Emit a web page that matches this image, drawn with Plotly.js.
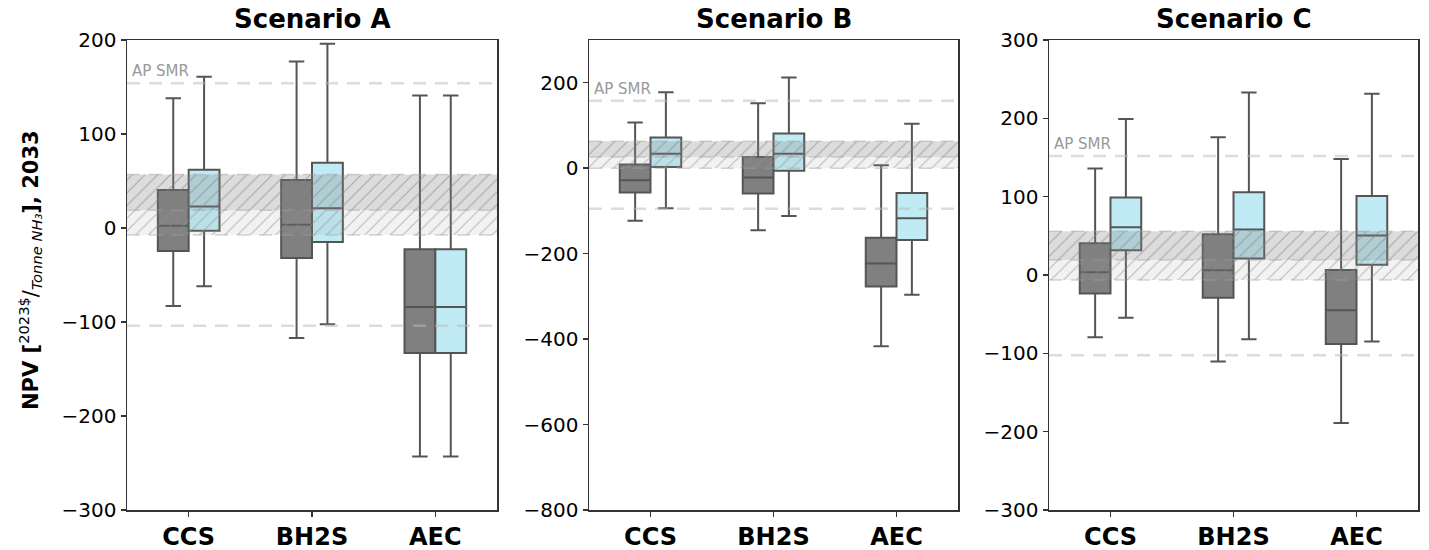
<!DOCTYPE html>
<html>
<head>
<meta charset="utf-8">
<script src="https://cdn.plot.ly/plotly-3.0.1.min.js"></script>
<style>html,body{margin:0;padding:0;background:#fff}#chart{width:1429px;height:550px}</style>
</head>
<body>
<div id="chart"></div>
<script>
// ---- data ----
const categories = ['CCS', 'BH2S', 'AEC'];
const scenarios = ['Scenario A', 'Scenario B', 'Scenario C'];

// Scenario A
const A_grey_upper = [138, 177, 141];
const A_grey_q3    = [40.5, 51, -22.5];
const A_grey_med   = [2.5, 3.5, -84];
const A_grey_q1    = [-24.5, -32, -133];
const A_grey_lower = [-83, -117, -243];
const A_blue_upper = [161, 196, 141];
const A_blue_q3    = [62, 69.5, -22.5];
const A_blue_med   = [23, 21, -84];
const A_blue_q1    = [-3, -15, -133];
const A_blue_lower = [-62, -102.5, -243];

// Scenario B
const B_grey_upper = [107, 152, 7];
const B_grey_q3    = [8.5, 26, -163];
const B_grey_med   = [-28, -22, -223];
const B_grey_q1    = [-57, -59, -277];
const B_grey_lower = [-123, -145, -417];
const B_blue_upper = [178, 212, 104];
const B_blue_q3    = [72, 81, -58];
const B_blue_med   = [34, 34, -117];
const B_blue_q1    = [3, -6, -168];
const B_blue_lower = [-94, -112, -296];

// Scenario C
const C_grey_upper = [136, 176, 148];
const C_grey_q3    = [40.5, 52, 6.5];
const C_grey_med   = [3.5, 6, -45];
const C_grey_q1    = [-23.5, -29, -88];
const C_grey_lower = [-79.5, -110.5, -189];
const C_blue_upper = [199, 233, 231.5];
const C_blue_q3    = [99, 105.5, 101];
const C_blue_med   = [61, 58, 50.5];
const C_blue_q1    = [31.5, 21, 13];
const C_blue_lower = [-54.5, -82, -85];

// reference levels per scenario (A, B, C)
const apSMR     = [154, 158, 152];
const lowerRef  = [-104, -95, -102.5];
const bandLow   = [-7.5, 0, -6.5];
const bandMid   = [19, 26, 19];
const bandHigh  = [57, 63, 56];

// axis settings per scenario
const yRanges = [[-300, 200], [-800, 300], [-300, 300]];
const yDtick  = [100, 200, 100];

// ---- build ----
const GREY = '#808080', BLUE = '#c0ebf4', EDGE = '#555555';
const FONT = 'DejaVu Sans';
const greyData = [
  [A_grey_lower, A_grey_q1, A_grey_med, A_grey_q3, A_grey_upper],
  [B_grey_lower, B_grey_q1, B_grey_med, B_grey_q3, B_grey_upper],
  [C_grey_lower, C_grey_q1, C_grey_med, C_grey_q3, C_grey_upper]];
const blueData = [
  [A_blue_lower, A_blue_q1, A_blue_med, A_blue_q3, A_blue_upper],
  [B_blue_lower, B_blue_q1, B_blue_med, B_blue_q3, B_blue_upper],
  [C_blue_lower, C_blue_q1, C_blue_med, C_blue_q3, C_blue_upper]];

const traces = [];
const shapes = [];
const annotations = [];
const layout = {
  width: 1429, height: 550,
  margin: {l: 0, r: 0, t: 0, b: 0},
  paper_bgcolor: '#fff', plot_bgcolor: '#fff',
  showlegend: false,
  boxmode: 'group', boxgap: 0.5, boxgroupgap: 0,
  font: {family: FONT, color: '#000'}
};
const domains = [[127/1429, 497/1429], [589/1429, 958/1429], [1049/1429, 1418/1429]];
const yDom = [1 - 510/550, 1 - 40/550];

for (let i = 0; i < 3; i++) {
  const xn = i === 0 ? 'x' : 'x' + (i + 1);
  const yn = i === 0 ? 'y' : 'y' + (i + 1);
  const xo = 'x' + (i + 4);
  const xk = i === 0 ? 'xaxis' : 'xaxis' + (i + 1);
  const yk = i === 0 ? 'yaxis' : 'yaxis' + (i + 1);

  [[greyData[i], GREY, 'grey'], [blueData[i], BLUE, 'blue']].forEach(([d, col, g]) => {
    traces.push({
      type: 'box', xaxis: xn, yaxis: yn,
      x: categories,
      lowerfence: d[0], q1: d[1], median: d[2], q3: d[3], upperfence: d[4],
      alignmentgroup: 'panel' + i, offsetgroup: g,
      fillcolor: col, line: {color: EDGE, width: 2},
      whiskerwidth: 0.5, boxpoints: false, hoverinfo: 'skip'
    });
  });

  // hatched bands (drawn on overlay axis so they sit above the boxes)
  traces.push({
    type: 'scatter', mode: 'lines', xaxis: xo, yaxis: yn,
    x: [0, 1, 1, 0, 0], y: [bandLow[i], bandLow[i], bandMid[i], bandMid[i], bandLow[i]],
    fill: 'toself', line: {width: 0},
    fillcolor: 'rgba(150,150,150,0.13)',
    fillpattern: {shape: '/', fgcolor: 'rgba(140,140,140,0.55)', bgcolor: 'rgba(150,150,150,0.13)', size: 9, solidity: 0.12},
    hoverinfo: 'skip'
  });
  traces.push({
    type: 'scatter', mode: 'lines', xaxis: xo, yaxis: yn,
    x: [0, 1, 1, 0, 0], y: [bandMid[i], bandMid[i], bandHigh[i], bandHigh[i], bandMid[i]],
    fill: 'toself', line: {width: 0},
    fillcolor: 'rgba(130,130,130,0.28)',
    fillpattern: {shape: '/', fgcolor: 'rgba(130,130,130,0.6)', bgcolor: 'rgba(130,130,130,0.28)', size: 9, solidity: 0.12},
    hoverinfo: 'skip'
  });

  layout[xk] = {
    domain: domains[i], anchor: yn, type: 'category',
    categoryorder: 'array', categoryarray: categories,
    range: [-0.5, 2.5],
    showline: true, mirror: true, linecolor: '#333', linewidth: 1.5,
    ticks: 'outside', ticklen: 5, tickwidth: 1.5, tickcolor: '#333',
    tickfont: {family: FONT, size: 24, color: '#000', weight: 'bold'},
    showgrid: false, zeroline: false, fixedrange: true
  };
  layout['xaxis' + (i + 4)] = {
    overlaying: xn, anchor: yn, range: [0, 1], visible: false, fixedrange: true,
    showticklabels: false
  };
  layout[yk] = {
    domain: yDom, anchor: xn, range: yRanges[i], dtick: yDtick[i], tick0: 0,
    showline: true, mirror: true, linecolor: '#333', linewidth: 1.5,
    ticks: 'outside', ticklen: 5, tickwidth: 1.5, tickcolor: '#333',
    tickfont: {family: FONT, size: 20, color: '#000'},
    showgrid: false, zeroline: false, fixedrange: true
  };

  // dashed reference lines
  [apSMR[i], lowerRef[i]].forEach(v => shapes.push({
    type: 'line', xref: xn + ' domain', yref: yn, x0: 0, x1: 1, y0: v, y1: v,
    line: {color: 'rgba(185,185,185,0.5)', width: 2.5, dash: '13px,9px'}, layer: 'above'
  }));
  [bandLow[i], bandMid[i], bandHigh[i]].forEach(v => shapes.push({
    type: 'line', xref: xn + ' domain', yref: yn, x0: 0, x1: 1, y0: v, y1: v,
    line: {color: 'rgba(160,160,160,0.45)', width: 1.5, dash: '13px,9px'}, layer: 'above'
  }));

  annotations.push({
    text: 'AP SMR', xref: xn + ' domain', yref: yn, x: 0.008, y: apSMR[i],
    xanchor: 'left', yanchor: 'bottom', yshift: 1, showarrow: false,
    font: {family: FONT, size: 15, color: '#999'}
  });
  annotations.push({
    text: '<b>' + scenarios[i] + '</b>', xref: 'paper', yref: 'paper',
    x: (domains[i][0] + domains[i][1]) / 2, y: 1 - 19/550,
    xanchor: 'center', yanchor: 'middle', showarrow: false,
    font: {family: FONT, size: 26, color: '#000'}
  });
}

annotations.push({
  text: '<b>NPV [</b><sup>2023$</sup>/<sub><i>Tonne NH₃</i></sub><b>], 2033</b>',
  xref: 'paper', yref: 'paper', x: 30/1429, y: 1 - 270/550,
  xanchor: 'center', yanchor: 'middle', textangle: -90, showarrow: false,
  font: {family: FONT, size: 21, color: '#000'}
});

layout.shapes = shapes;
layout.annotations = annotations;

Plotly.newPlot('chart', traces, layout, {staticPlot: true, displayModeBar: false});
</script>
</body>
</html>
